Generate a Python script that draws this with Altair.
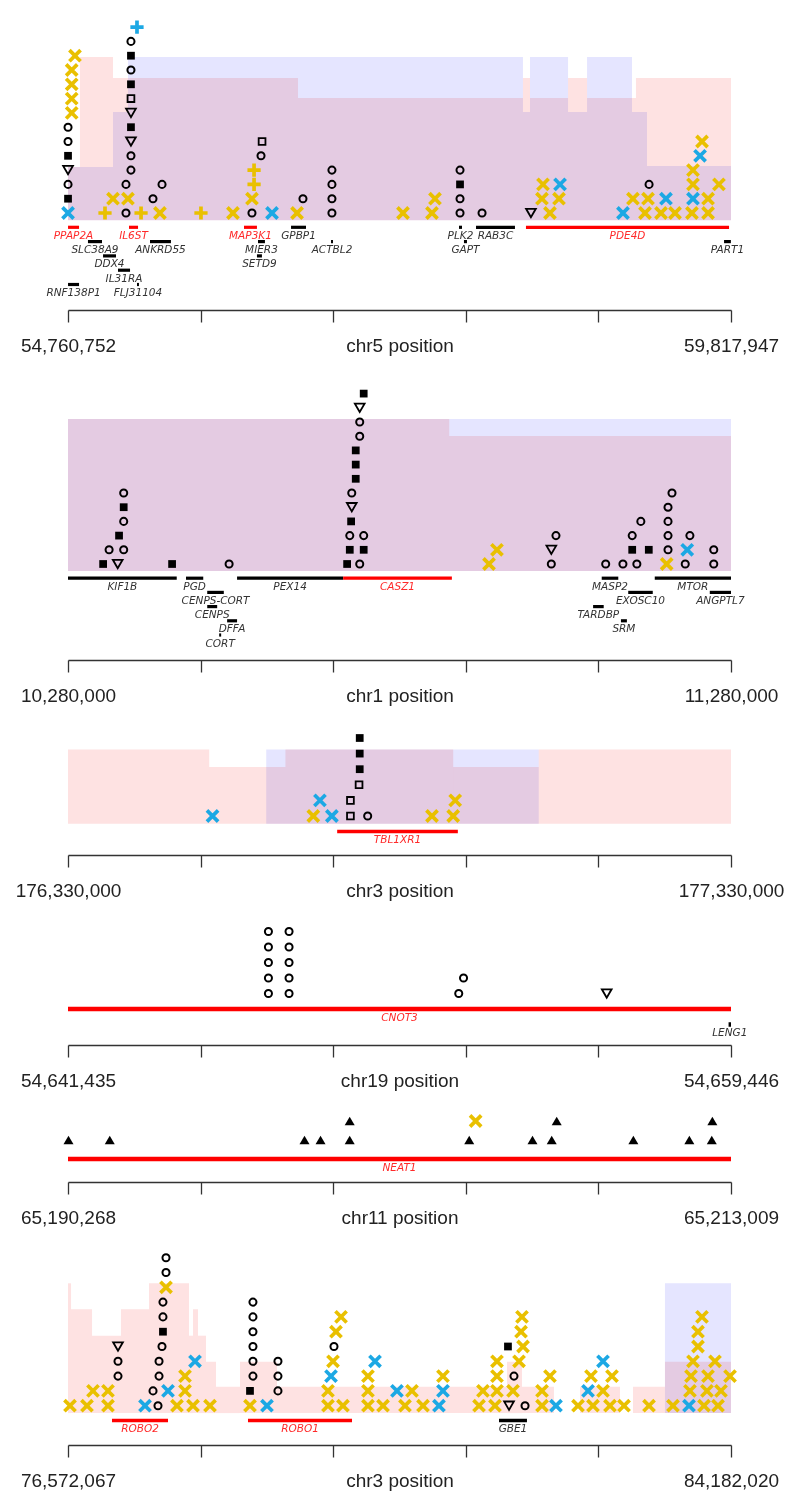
import altair as alt
import pandas as pd

# ---------------- symbol definitions ----------------
X_PATH = "M-1,-1L1,1M1,-1L-1,1"
P_PATH = "M-1,0L1,0M0,-1L0,1"
YEL = "#E9C000"
BLU = "#1CA8E4"
SHAPE_OF = {"o": "circle", "sq": "square", "so": "square", "tv": "triangle-down", "ta": "triangle-up",
            "xy": X_PATH, "xb": X_PATH, "py": P_PATH, "pb": P_PATH}
STROKE_OF = {"o": "black", "sq": "black", "so": "black", "tv": "black", "ta": "black",
             "xy": YEL, "xb": BLU, "py": YEL, "pb": BLU}
FILL_OF = {"o": "transparent", "sq": "black", "so": "transparent", "tv": "transparent", "ta": "black",
           "xy": "transparent", "xb": "transparent", "py": "transparent", "pb": "transparent"}
SW_OF = {"o": 2.0, "sq": 0.0, "so": 1.8, "tv": 1.8, "ta": 0.0, "xy": 3.7, "xb": 3.7, "py": 3.7, "pb": 3.7}
SZ_OF = {"o": 50, "sq": 60, "so": 46, "tv": 95, "ta": 100, "xy": 125, "xb": 125, "py": 175, "pb": 175}
PINK = "#FEE2E2"
LAV = "#E5E5FF"

# ---------------- Panel 1: chr5 ----------------
p1_start, p1_end = 54760752, 59817947
p1_pos = [54761000, 54761000, 54761000, 54761000, 54761000, 54761000, 54761000,
          54789000, 54789000, 54789000, 54789000, 54814000,
          55043000, 55104000, 55203000, 55218000, 55203000,
          55241000, 55241000, 55241000, 55241000, 55241000, 55241000, 55241000, 55241000,
          55241000, 55241000, 55287000,
          55318000, 55409000, 55462000, 55478000, 55775000, 56019000,
          56164000, 56164000, 56180000, 56180000, 56233000, 56241000,
          56317000, 56508000, 56553000, 56774000, 56774000, 56774000, 56774000,
          57316000, 57537000, 57560000, 57751000, 57751000, 57751000, 57751000,
          57919000, 58292000, 58437000, 58376000, 58384000, 58506000, 58514000,
          58994000, 59070000, 59162000, 59185000, 59193000, 59284000, 59322000,
          59391000, 59520000, 59528000, 59528000, 59528000, 59582000, 59597000,
          59643000, 59643000, 59726000]
p1_row = [0, 1, 2, 3, 4, 5, 6,
          7, 8, 9, 10, 11,
          0, 1, 0, 1, 2,
          3, 4, 5, 6, 7, 8, 9, 10,
          11, 12, 13,
          0, 1, 0, 2, 0, 0,
          0, 1, 2, 3, 4, 5,
          0, 0, 1, 0, 1, 2, 3,
          0, 0, 1, 0, 1, 2, 3,
          0, 0, 0, 1, 2, 1, 2,
          0, 1, 0, 1, 2, 0, 1,
          0, 0, 1, 2, 3, 4, 5,
          0, 1, 2]
p1_sym = ["xb", "sq", "o", "tv", "sq", "o", "o",
          "xy", "xy", "xy", "xy", "xy",
          "py", "xy", "o", "xy", "o",
          "o", "o", "tv", "sq", "tv", "so", "sq", "o",
          "sq", "o", "pb",
          "py", "o", "xy", "o", "py", "xy",
          "o", "xy", "py", "py", "o", "so",
          "xb", "xy", "o", "o", "o", "o", "o",
          "xy", "xy", "xy", "o", "o", "sq", "o",
          "o", "tv", "xy", "xy", "xy", "xy", "xb",
          "xb", "xy", "xy", "xy", "o", "xy", "xb",
          "xy", "xy", "xb", "xy", "xy", "xb", "xy",
          "xy", "xy", "xy"]
p1_gene = ["PPAP2A", "IL6ST", "MAP3K1", "GPBP1", "PLK2", "RAB3C", "PDE4D",
           "SLC38A9", "ANKRD55", "MIER3", "ACTBL2", "GAPT", "PART1",
           "DDX4", "SETD9", "IL31RA", "RNF138P1", "FLJ31104"]
p1_gstart = [54761000, 55226000, 56103000, 56462000, 57743000, 57873000, 58254000,
             54913000, 55386000, 56210000, 56767000, 57781000, 59765000,
             55028000, 56202000, 55142000, 54761000, 55287000]
p1_gend = [54845000, 55295000, 56202000, 56576000, 57766000, 58170000, 59803000,
           55020000, 55546000, 56263000, 56782000, 57804000, 59817000,
           55127000, 56240000, 55234000, 54845000, 55302000]
p1_grow = [-1, -1, -1, -1, -1, -1, -1, -2, -2, -2, -2, -2, -2, -3, -3, -4, -5, -5]
p1_gred = [1, 1, 1, 0, 0, 0, 1, 0, 0, 0, 0, 0, 0, 0, 0, 0, 0, 0]
p1_pink_s = [54760752, 54852000, 55104000, 56515000, 58231000, 58285000, 58575000, 58720000, 59093000]
p1_pink_e = [54852000, 55104000, 56515000, 58231000, 58285000, 58575000, 58720000, 59093000, 59817947]
p1_pink_h = [3.22, 10.91, 9.44, 8.04, 9.44, 8.04, 9.44, 8.04, 9.44]
p1_lav_s = [54760752, 55104000, 55218000, 58231000, 58285000, 58575000, 58720000, 59063000, 59177000]
p1_lav_e = [55104000, 55218000, 58231000, 58285000, 58575000, 58720000, 59063000, 59177000, 59817947]
p1_lav_h = [3.22, 7.06, 10.91, 7.06, 10.91, 7.06, 10.91, 7.06, 3.29]

# ---------------- Panel 2: chr1 ----------------
p2_start, p2_end = 10280000, 11280000
p2_pos = [10333000, 10342000, 10355000, 10364000, 10357000, 10364000, 10364000, 10364000,
          10437000, 10523000,
          10701000, 10720000, 10705000, 10726000, 10705000, 10726000, 10707000, 10708000,
          10708000, 10714000, 10714000, 10714000, 10720000, 10720000, 10720000, 10726000,
          10915000, 10927000, 11009000, 11009000, 11016000, 11091000, 11117000, 11138000,
          11131000, 11131000, 11144000, 11156000, 11183000, 11185000, 11185000, 11185000,
          11185000, 11191000, 11211000, 11214000, 11218000, 11254000, 11254000]
p2_row = [0, 1, 0, 1, 2, 3, 4, 5,
          0, 0,
          0, 0, 1, 1, 2, 2, 3, 4,
          5, 6, 7, 8, 9, 10, 11, 12,
          0, 1, 0, 1, 2, 0, 0, 0,
          1, 2, 3, 1, 0, 1, 2, 3,
          4, 5, 0, 1, 2, 0, 1]
p2_sym = ["sq", "o", "tv", "o", "sq", "o", "sq", "o",
          "sq", "o",
          "sq", "o", "sq", "sq", "o", "o", "sq", "tv",
          "o", "sq", "sq", "sq", "o", "o", "tv", "sq",
          "xy", "xy", "o", "tv", "o", "o", "o", "o",
          "sq", "o", "o", "sq", "xy", "o", "o", "o",
          "o", "o", "o", "xb", "o", "o", "o"]
p2_gene = ["KIF1B", "PGD", "PEX14", "CASZ1", "MASP2", "MTOR",
           "CENPS-CORT", "EXOSC10", "ANGPTL7", "CENPS", "TARDBP", "DFFA", "SRM", "CORT"]
p2_gstart = [10280000, 10458000, 10535000, 10695000, 11085000, 11165000,
             10490000, 11125000, 11248000, 10490000, 11072000, 10520000, 11114000, 10508000]
p2_gend = [10444000, 10484000, 10695000, 10859000, 11110000, 11280000,
           10515000, 11162000, 11280000, 10505000, 11088000, 10535000, 11123000, 10511000]
p2_grow = [-1, -1, -1, -1, -1, -1, -2, -2, -2, -3, -3, -4, -4, -5]
p2_gred = [0, 0, 0, 1, 0, 0, 0, 0, 0, 0, 0, 0, 0, 0]
p2_pink_s = [10280000, 10855000]
p2_pink_e = [10855000, 11280000]
p2_pink_h = [10.21, 9.01]
p2_lav_s = [10280000]
p2_lav_e = [11280000]
p2_lav_h = [10.21]

# ---------------- Panel 3: chr3 (TBL1XR1) ----------------
p3_start, p3_end = 176330000, 177330000
p3_pos = [176548000, 176700000, 176710000, 176728000, 176756000, 176756000, 176769000,
          176770000, 176770000, 176770000, 176782000, 176879000, 176911000, 176914000]
p3_row = [0, 0, 1, 0, 0, 1, 2, 3, 4, 5, 0, 0, 0, 1]
p3_sym = ["xb", "xy", "xb", "xb", "so", "so", "so", "sq", "sq", "sq", "o", "xy", "xy", "xy"]
p3_gene = ["TBL1XR1"]
p3_gstart = [176736000]
p3_gend = [176918000]
p3_grow = [-1]
p3_gred = [1]
p3_pink_s = [176330000, 176543000, 176658000, 176911000, 177040000]
p3_pink_e = [176543000, 176658000, 176911000, 177040000, 177330000]
p3_pink_h = [4.27, 3.14, 4.27, 3.14, 4.27]
p3_lav_s = [176629000]
p3_lav_e = [177040000]
p3_lav_h = [4.27]

# ---------------- Panel 4: chr19 (CNOT3) ----------------
p4_start, p4_end = 54641435, 54659446
p4_pos = [54646880, 54646880, 54646880, 54646880, 54646880,
          54647440, 54647440, 54647440, 54647440, 54647440,
          54652050, 54652180, 54656070]
p4_row = [0, 1, 2, 3, 4, 0, 1, 2, 3, 4, 0, 1, 0]
p4_sym = ["o"] * 12 + ["tv"]
p4_gene = ["CNOT3", "LENG1"]
p4_gstart = [54641435, 54659380]
p4_gend = [54659446, 54659446]
p4_grow = [-1, -2]
p4_gred = [1, 0]

# ---------------- Panel 5: chr11 (NEAT1) ----------------
p5_start, p5_end = 65190268, 65213009
p5_pos = [65190285, 65191700, 65198380, 65198930, 65199930, 65204030, 65206200,
          65206860, 65209660, 65211580, 65212350,
          65199930, 65204250, 65207030, 65212370]
p5_row = [0] * 11 + [1, 1, 1, 1]
p5_sym = ["ta"] * 11 + ["ta", "xy", "ta", "ta"]
p5_gene = ["NEAT1"]
p5_gstart = [65190268]
p5_gend = [65213009]
p5_grow = [-1]
p5_gred = [1]

# ---------------- Panel 6: chr3 (ROBO1/ROBO2) ----------------
p6_start, p6_end = 76572067, 84182020
p6_pos = [76595000, 76790000, 76859000, 77031000, 77031000, 77146000, 77146000, 77146000,
          77456000, 77605000, 77548000, 77720000, 77617000, 77617000, 77651000, 77662000,
          77662000, 77662000, 77697000, 77697000, 77697000,
          77823000, 77915000, 77915000, 78007000, 78030000, 78202000,
          78661000, 78661000, 78695000, 78695000, 78695000, 78695000, 78695000, 78695000,
          78856000, 78982000, 78982000, 78982000,
          79556000, 79556000, 79591000, 79614000, 79625000, 79648000, 79706000, 79728000,
          80015000, 80015000, 80015000, 80096000, 80188000, 80348000, 80440000, 80520000,
          80647000, 80830000, 80876000, 80876000,
          81290000, 81473000, 81634000, 81818000, 82013000, 82173000, 82426000, 82598000,
          82793000, 82954000, 83241000, 83516000, 83700000, 83872000, 84033000,
          81335000, 81496000, 81680000, 82013000, 82541000, 82713000, 83711000, 83906000, 84067000,
          81496000, 81691000, 82104000, 82575000, 82816000, 83723000, 83918000, 84171000,
          81496000, 81749000, 82713000, 83746000, 83998000,
          81622000, 81795000, 83803000,
          81772000, 83803000,
          81783000, 83849000]
p6_row = [0, 0, 1, 0, 1, 2, 3, 4,
          0, 0, 1, 1, 2, 3, 4, 5,
          6, 7, 8, 9, 10,
          0, 1, 2, 0, 3, 0,
          0, 1, 2, 3, 4, 5, 6, 7,
          0, 1, 2, 3,
          0, 1, 2, 3, 4, 5, 6, 0,
          0, 1, 2, 3, 0, 1, 0, 1,
          0, 0, 1, 2,
          0, 0, 0, 0, 0, 0, 0, 0,
          0, 0, 0, 0, 0, 0, 0,
          1, 1, 1, 1, 1, 1, 1, 1, 1,
          2, 2, 2, 2, 2, 2, 2, 2,
          3, 3, 3, 3, 3,
          4, 4, 4,
          5, 5,
          6, 6]
p6_sym = ["xy", "xy", "xy", "xy", "xy", "o", "o", "tv",
          "xb", "o", "o", "xb", "o", "o", "o", "sq",
          "o", "o", "xy", "o", "o",
          "xy", "xy", "xy", "xy", "xb", "xy",
          "xy", "sq", "o", "o", "o", "o", "o", "o",
          "xb", "o", "o", "o",
          "xy", "xy", "xb", "xy", "o", "xy", "xy", "xy",
          "xy", "xy", "xy", "xb", "xy", "xb", "xy", "xy",
          "xy", "xb", "xb", "xy",
          "xy", "xy", "tv", "o", "xy", "xb", "xy", "xy",
          "xy", "xy", "xy", "xy", "xb", "xy", "xy",
          "xy", "xy", "xy", "xy", "xb", "xy", "xy", "xy", "xy",
          "xy", "o", "xy", "xy", "xy", "xy", "xy", "xy",
          "xy", "xy", "xb", "xy", "xy",
          "sq", "xy", "xy",
          "xy", "xy",
          "xy", "xy"]
p6_gene = ["ROBO2", "ROBO1", "GBE1"]
p6_gstart = [77077000, 78638000, 81519000]
p6_gend = [77720000, 79832000, 81840000]
p6_grow = [-1, -1, -1]
p6_gred = [1, 1, 0]
p6_pink_s = [76572067, 76607000, 76848000, 77180000, 77502000, 77961000, 78007000, 78064000,
             78156000, 78271000, 78546000, 78971000, 81611000, 81783000, 82449000, 83057000, 83424000]
p6_pink_e = [76607000, 76848000, 77180000, 77502000, 77961000, 78007000, 78064000, 78156000,
             78271000, 78546000, 78971000, 81611000, 81783000, 82150000, 82908000, 83424000, 84182020]
p6_pink_h = [8.27, 6.51, 4.73, 6.51, 8.27, 4.73, 6.51, 4.73,
             2.97, 1.28, 2.97, 1.28, 2.97, 1.28, 1.28, 1.28, 2.97]
p6_lav_s = [83424000]
p6_lav_e = [84182020]
p6_lav_h = [8.27]

W = 663
LABEL_FONT = "Liberation Sans"


def panel(chrom, start, end, pos, row, sym, gname, gs, ge, grow, gred,
          pink=None, lav=None, top_px=0, axis_px=300, r0_px=200, step=14.3, gw=3.5):
    height = axis_px - top_px
    ymax = (r0_px - top_px) / step
    ymin = (r0_px - axis_px) / step
    xs = alt.Scale(domain=[start, end], nice=False, zero=False)
    ys = alt.Scale(domain=[ymin, ymax], nice=False, zero=False)
    ticks = [start + (end - start) * k / 5 for k in range(6)]
    axis = alt.Axis(
        values=ticks,
        labelExpr="(datum.index == 0 || datum.index == 1) ? format(datum.value, ',d') : ''",
        labelFont=LABEL_FONT, labelFontSize=19, labelColor="#222",
        labelBaseline="middle", labelPadding=23, labelFlush=False, labelOverlap=False,
        labelBound=False,
        domainColor="#333", domainWidth=1.3, tickColor="#333", tickWidth=1.3, tickSize=12,
        grid=False, title=f"{chrom} position", titleFont=LABEL_FONT, titleFontSize=19,
        titleFontWeight="normal", titleColor="#222", titleY=35, titleBaseline="middle",
    )

    def X(f):
        return alt.X(f, type="quantitative", scale=xs, axis=axis)

    def Y(f):
        return alt.Y(f, type="quantitative", scale=ys, axis=None)

    layers = []
    for seg, col in ((pink, PINK), (lav, LAV)):
        if seg is None:
            continue
        d = pd.DataFrame({"s": seg[0], "e": seg[1], "top": seg[2]})
        d["base"] = -0.5
        layers.append(
            alt.Chart(d).mark_rect(color=col, blend="multiply", opacity=1).encode(
                x=X("s"), x2=alt.X2("e"), y=Y("base"), y2=alt.Y2("top")
            )
        )
    g = pd.DataFrame({"name": gname, "s": gs, "e": ge, "row": grow, "red": gred})
    g["mid"] = (g["s"] + g["e"]) / 2
    g["lc"] = ["#FF0000" if r else "black" for r in g["red"]]
    g["tc"] = ["#FF2A2A" if r else "#333333" for r in g["red"]]
    layers.append(
        alt.Chart(g).mark_rule(strokeWidth=gw).encode(
            x=X("s"), x2=alt.X2("e"), y=Y("row"), color=alt.Color("lc:N", scale=None)
        )
    )
    layers.append(
        alt.Chart(g).mark_text(font="DejaVu Sans", fontStyle="italic", fontSize=10.5,
                               dy=8.5, baseline="middle", align="center").encode(
            x=X("mid"), y=Y("row"), text="name:N", color=alt.Color("tc:N", scale=None)
        )
    )
    m = pd.DataFrame({"pos": pos, "row": row, "sym": sym})
    m["shp"] = m["sym"].map(SHAPE_OF)
    m["stk"] = m["sym"].map(STROKE_OF)
    m["fil"] = m["sym"].map(FILL_OF)
    m["sw"] = m["sym"].map(SW_OF)
    m["sz"] = m["sym"].map(SZ_OF)
    layers.append(
        alt.Chart(m).mark_point(opacity=1).encode(
            x=X("pos"), y=Y("row"),
            shape=alt.Shape("shp:N", scale=None),
            stroke=alt.Stroke("stk:N", scale=None),
            fill=alt.Fill("fil:N", scale=None),
            strokeWidth=alt.StrokeWidth("sw:Q", scale=None),
            size=alt.Size("sz:Q", scale=None),
        )
    )
    return alt.layer(*layers).properties(width=W, height=height)


c1 = panel("chr5", p1_start, p1_end, p1_pos, p1_row, p1_sym, p1_gene, p1_gstart, p1_gend, p1_grow, p1_gred,
           pink=(p1_pink_s, p1_pink_e, p1_pink_h), lav=(p1_lav_s, p1_lav_e, p1_lav_h),
           top_px=8, axis_px=310, r0_px=213, step=14.3, gw=3.2)
c2 = panel("chr1", p2_start, p2_end, p2_pos, p2_row, p2_sym, p2_gene, p2_gstart, p2_gend, p2_grow, p2_gred,
           pink=(p2_pink_s, p2_pink_e, p2_pink_h), lav=(p2_lav_s, p2_lav_e, p2_lav_h),
           top_px=310, axis_px=660, r0_px=564, step=14.2, gw=3.2)
c3 = panel("chr3", p3_start, p3_end, p3_pos, p3_row, p3_sym, p3_gene, p3_gstart, p3_gend, p3_grow, p3_gred,
           pink=(p3_pink_s, p3_pink_e, p3_pink_h), lav=(p3_lav_s, p3_lav_e, p3_lav_h),
           top_px=660, axis_px=855, r0_px=816, step=15.6, gw=3.5)
c4 = panel("chr19", p4_start, p4_end, p4_pos, p4_row, p4_sym, p4_gene, p4_gstart, p4_gend, p4_grow, p4_gred,
           top_px=855, axis_px=1045, r0_px=993.5, step=15.5, gw=4.5)
c5 = panel("chr11", p5_start, p5_end, p5_pos, p5_row, p5_sym, p5_gene, p5_gstart, p5_gend, p5_grow, p5_gred,
           top_px=1045, axis_px=1182, r0_px=1140, step=19, gw=4.5)
c6 = panel("chr3", p6_start, p6_end, p6_pos, p6_row, p6_sym, p6_gene, p6_gstart, p6_gend, p6_grow, p6_gred,
           pink=(p6_pink_s, p6_pink_e, p6_pink_h), lav=(p6_lav_s, p6_lav_e, p6_lav_h),
           top_px=1182, axis_px=1445, r0_px=1405.7, step=14.8, gw=3.5)

chart = alt.vconcat(c1, c2, c3, c4, c5, c6, spacing=0, bounds="flush").properties(
    padding={"left": 7, "right": 5, "top": 0, "bottom": 5}
).configure_view(stroke=None)

chart.save("out.html", embed_options={"renderer": "svg", "actions": False})
